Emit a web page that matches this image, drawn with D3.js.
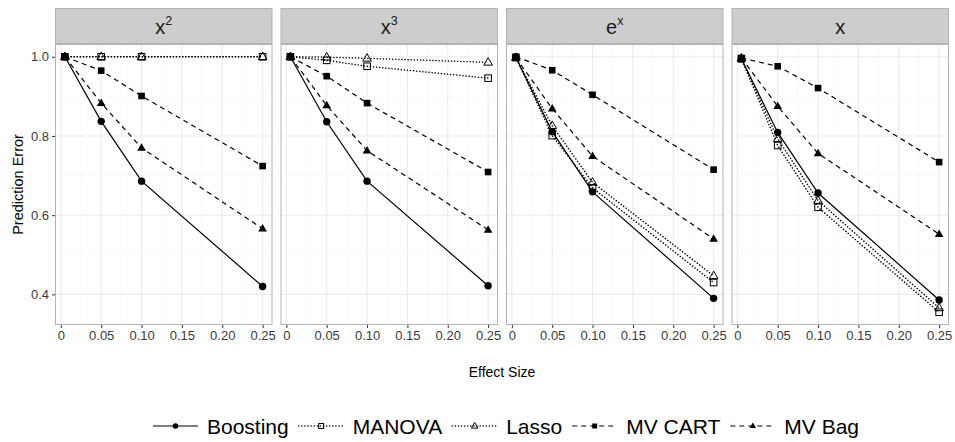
<!DOCTYPE html>
<html>
<head>
<meta charset="utf-8">
<script src="https://cdn.jsdelivr.net/npm/d3@7"></script>
<style>
	body { margin: 0; background: #fff; }
	svg { font-family: "Liberation Sans", Arial, Helvetica, sans-serif; }
</style>
</head>
<body>
<div id="chart"></div>
<script>
// effect sizes along the x axis
var effectSizes = [0.005, 0.05, 0.10, 0.25];
// facet labels: base + superscript
var facetBase = ['x', 'x', 'e', 'x'];
var facetSup = ['2', '3', 'x', ''];
var methods = ['Boosting', 'MANOVA', 'Lasso', 'MV CART', 'MV Bag'];

// one row per facet (x^2, x^3, e^x, x)
var boosting = [
	[1.000, 0.837, 0.686, 0.420],
	[1.000, 0.836, 0.686, 0.422],
	[0.998, 0.811, 0.659, 0.390],
	[0.995, 0.809, 0.656, 0.386]
];
var manova = [
	[1.000, 1.000, 1.000, 1.000],
	[1.000, 0.991, 0.976, 0.946],
	[0.998, 0.801, 0.669, 0.430],
	[0.995, 0.776, 0.620, 0.355]
];
var lasso = [
	[1.000, 1.000, 1.000, 1.000],
	[1.000, 0.999, 0.996, 0.986],
	[0.998, 0.826, 0.683, 0.447],
	[0.996, 0.793, 0.637, 0.366]
];
var mvCart = [
	[1.000, 0.965, 0.901, 0.724],
	[1.000, 0.951, 0.883, 0.709],
	[1.000, 0.966, 0.904, 0.715],
	[0.997, 0.976, 0.921, 0.734]
];
var mvBag = [
	[1.000, 0.883, 0.770, 0.566],
	[1.000, 0.877, 0.763, 0.563],
	[0.998, 0.869, 0.749, 0.540],
	[0.997, 0.875, 0.756, 0.552]
];

var xTicks = [0, 0.05, 0.10, 0.15, 0.20, 0.25];
var xTickLabels = ['0', '0.05', '0.10', '0.15', '0.20', '0.25'];
var yTicks = [0.4, 0.6, 0.8, 1.0];
var yTickLabels = ['0.4', '0.6', '0.8', '1.0'];

drawChart();

function drawChart(){
	var width = 955;
	var height = 442;
	var left = 55, right = 949;
	var stripTop = 8, stripH = 36;
	var panelTop = stripTop + stripH, panelBottom = 325;
	var gap = 8;
	var panelW = (right - left - gap * 3) / 4;
	var panelH = panelBottom - panelTop;

	var seriesData = [boosting, manova, lasso, mvCart, mvBag];
	var dashes = [null, '0.1,3', '0.1,3', '5,4', '5,4'];
	var caps = ['butt', 'round', 'round', 'butt', 'butt'];
	var shapes = ['circle', 'squareOpen', 'triangleOpen', 'square', 'triangle'];

	// ggplot style 5% expansion
	var xExt = d3.extent(effectSizes);
	var xPad = (xExt[1] - xExt[0]) * 0.05;
	var allY = d3.merge(seriesData.map(function(s){ return d3.merge(s); }));
	var yExt = d3.extent(allY);
	var yPad = (yExt[1] - yExt[0]) * 0.05;

	var x = d3.scaleLinear()
		.domain([xExt[0] - xPad, xExt[1] + xPad])
		.range([0, panelW]);
	var y = d3.scaleLinear()
		.domain([yExt[0] - yPad, yExt[1] + yPad])
		.range([panelH, 0]);

	var xMinor = d3.range(xTicks.length - 1).map(function(i){ return (xTicks[i] + xTicks[i+1]) / 2; });
	var yMinor = d3.range(yTicks.length - 1).map(function(i){ return (yTicks[i] + yTicks[i+1]) / 2; });

	var svg = d3.select('#chart')
		.append('svg')
		.attr('width', width)
		.attr('height', height);

	var line = d3.line()
		.x(function(d){ return x(d[0]); })
		.y(function(d){ return y(d[1]); });

	facetBase.forEach(function(base, f){
		var px = left + f * (panelW + gap);
		var g = svg.append('g')
			.attr('transform', 'translate(' + px + ',' + panelTop + ')');

		// strip
		svg.append('rect')
			.attr('x', px + 0.5)
			.attr('y', stripTop + 0.5)
			.attr('width', panelW - 1)
			.attr('height', stripH - 1)
			.attr('fill', '#cdcdcd')
			.attr('stroke', '#b3b3b3');
		var st = svg.append('text')
			.attr('x', px + panelW / 2)
			.attr('y', stripTop + 26)
			.attr('text-anchor', 'middle')
			.attr('font-size', 20)
			.attr('fill', '#1a1a1a');
		st.append('tspan').text(base);
		if (facetSup[f]) {
			st.append('tspan')
				.attr('dy', -9)
				.attr('font-size', 12.5)
				.text(facetSup[f]);
		}

		// grid
		g.selectAll('.xminor').data(xMinor).enter().append('line')
			.attr('x1', function(d){ return x(d); }).attr('x2', function(d){ return x(d); })
			.attr('y1', 0).attr('y2', panelH)
			.attr('stroke', '#f4f4f4').attr('stroke-width', 0.6);
		g.selectAll('.yminor').data(yMinor).enter().append('line')
			.attr('y1', function(d){ return y(d); }).attr('y2', function(d){ return y(d); })
			.attr('x1', 0).attr('x2', panelW)
			.attr('stroke', '#f4f4f4').attr('stroke-width', 0.6);
		g.selectAll('.xmajor').data(xTicks).enter().append('line')
			.attr('x1', function(d){ return x(d); }).attr('x2', function(d){ return x(d); })
			.attr('y1', 0).attr('y2', panelH)
			.attr('stroke', '#ebebeb').attr('stroke-width', 1.1);
		g.selectAll('.ymajor').data(yTicks).enter().append('line')
			.attr('y1', function(d){ return y(d); }).attr('y2', function(d){ return y(d); })
			.attr('x1', 0).attr('x2', panelW)
			.attr('stroke', '#ebebeb').attr('stroke-width', 1.1);

		// series
		seriesData.forEach(function(s, i){
			var pts = effectSizes.map(function(e, j){ return [e, s[f][j]]; });
			g.append('path')
				.datum(pts)
				.attr('d', line)
				.attr('fill', 'none')
				.attr('stroke', '#000')
				.attr('stroke-width', caps[i] === 'round' ? 1.5 : 1.2)
				.attr('stroke-linecap', caps[i])
				.attr('stroke-dasharray', dashes[i]);
			pts.forEach(function(p){
				drawShape(g, shapes[i], x(p[0]), y(p[1]), 1);
			});
		});

		// border
		g.append('rect')
			.attr('x', 0.5).attr('y', 0.5)
			.attr('width', panelW - 1).attr('height', panelH - 1)
			.attr('fill', 'none')
			.attr('stroke', '#b3b3b3');

		// x axis
		var xAxis = d3.axisBottom(x)
			.tickValues(xTicks)
			.tickFormat(function(d, i){ return xTickLabels[i]; })
			.tickSize(3)
			.tickPadding(3);
		var ax = svg.append('g')
			.attr('transform', 'translate(' + px + ',' + panelBottom + ')')
			.call(xAxis);
		ax.select('.domain').remove();
		ax.selectAll('line').attr('stroke', '#333');
		ax.selectAll('text').attr('font-size', 13).attr('fill', '#3a3a3a')
			.attr('font-family', null);

		if (f === 0) {
			var yAxis = d3.axisLeft(y)
				.tickValues(yTicks)
				.tickFormat(function(d, i){ return yTickLabels[i]; })
				.tickSize(3)
				.tickPadding(3);
			var ay = svg.append('g')
				.attr('transform', 'translate(' + px + ',' + panelTop + ')')
				.call(yAxis);
			ay.select('.domain').remove();
			ay.selectAll('line').attr('stroke', '#333');
			ay.selectAll('text').attr('font-size', 13).attr('fill', '#3a3a3a')
				.attr('font-family', null);
		}
	});

	// axis titles
	svg.append('text')
		.attr('x', (left + right) / 2)
		.attr('y', 377)
		.attr('text-anchor', 'middle')
		.attr('font-size', 14)
		.text('Effect Size');
	svg.append('text')
		.attr('transform', 'translate(23,' + ((panelTop + panelBottom) / 2) + ') rotate(-90)')
		.attr('text-anchor', 'middle')
		.attr('font-size', 14.5)
		.text('Prediction Error');

	// legend
	var keyW = 45, keyGap = 9, itemGap = 10, legendY = 426;
	var legend = svg.append('g');
	var cursor = 0;
	methods.forEach(function(m, i){
		var item = legend.append('g').attr('transform', 'translate(' + cursor + ',0)');
		item.append('line')
			.attr('x1', 0).attr('x2', keyW)
			.attr('y1', legendY).attr('y2', legendY)
			.attr('stroke', '#000')
			.attr('stroke-width', caps[i] === 'round' ? 1.5 : 1.2)
			.attr('stroke-linecap', caps[i])
			.attr('stroke-dasharray', dashes[i]);
		drawShape(item, shapes[i], keyW / 2, legendY, 0.75);
		var t = item.append('text')
			.attr('x', keyW + keyGap)
			.attr('y', legendY + 7.5)
			.attr('font-size', 21)
			.text(m);
		cursor += keyW + keyGap + t.node().getComputedTextLength() + itemGap;
	});
	var total = cursor - itemGap;
	legend.attr('transform', 'translate(' + (506 - total / 2) + ',0)');
}

function drawShape(g, shape, cx, cy, k){
	if (shape === 'circle') {
		g.append('circle').attr('cx', cx).attr('cy', cy).attr('r', 3.7 * k).attr('fill', '#000');
	} else if (shape === 'square' || shape === 'squareOpen') {
		var s = 6.6 * k;
		g.append('rect')
			.attr('x', cx - s / 2).attr('y', cy - s / 2)
			.attr('width', s).attr('height', s)
			.attr('fill', shape === 'square' ? '#000' : 'none')
			.attr('stroke', '#000')
			.attr('stroke-width', shape === 'square' ? 0 : 1);
	} else {
		var r = 4.7 * k;
		var pts = [[cx, cy - r], [cx + r * 0.92, cy + r * 0.6], [cx - r * 0.92, cy + r * 0.6]];
		g.append('path')
			.attr('d', 'M' + pts.join('L') + 'Z')
			.attr('fill', shape === 'triangle' ? '#000' : 'none')
			.attr('stroke', '#000')
			.attr('stroke-width', shape === 'triangle' ? 0 : 1);
	}
}
</script>
</body>
</html>
